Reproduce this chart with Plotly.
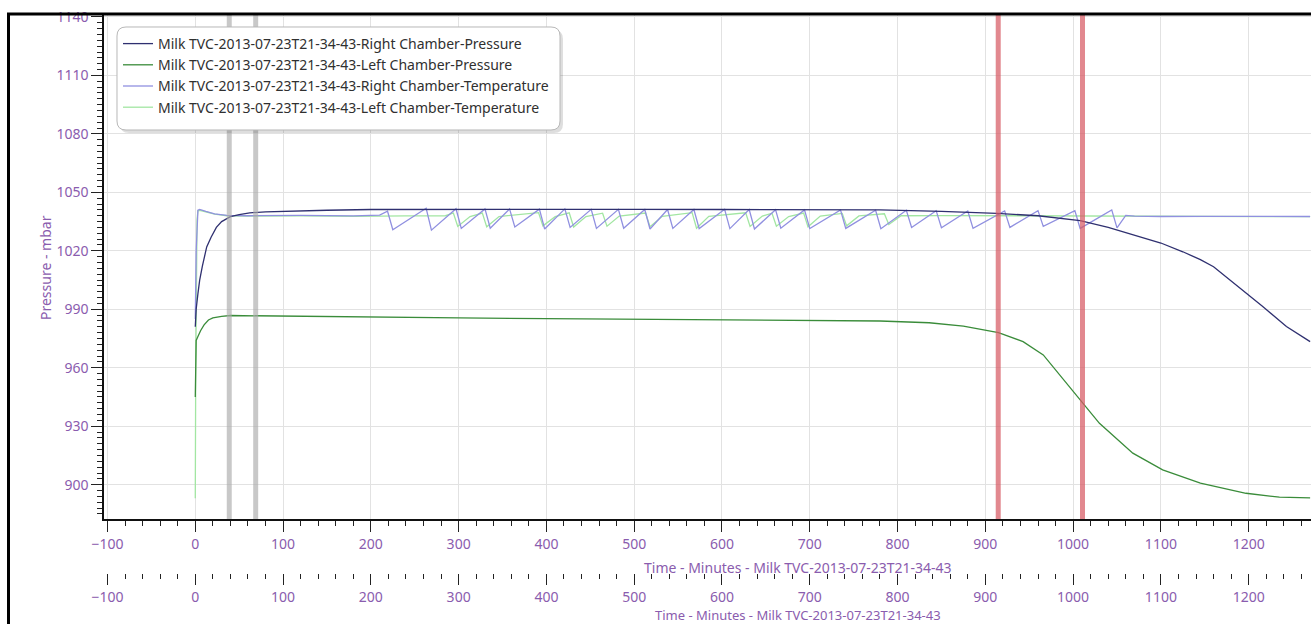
import plotly.graph_objects as go

# ---------------- data ----------------
series_names = [
    "Milk TVC-2013-07-23T21-34-43-Right Chamber-Pressure",
    "Milk TVC-2013-07-23T21-34-43-Left Chamber-Pressure",
    "Milk TVC-2013-07-23T21-34-43-Right Chamber-Temperature",
    "Milk TVC-2013-07-23T21-34-43-Left Chamber-Temperature",
]

rp_t = [0, 1, 3, 5, 8, 13, 18, 24, 30, 40, 50, 62, 80, 100, 150, 200, 300, 400, 500, 600,
        700, 780, 850, 913, 960, 1008, 1040, 1076, 1100, 1125, 1145, 1160, 1186, 1200, 1216, 1243, 1270]
rp_v = [981, 990, 998, 1005, 1012, 1022, 1027, 1032, 1035, 1037.5, 1038.6, 1039.5, 1040, 1040.3, 1040.8,
        1041.2, 1041.3, 1041.3, 1041.3, 1041.2, 1041.1, 1041, 1040.2, 1039.2, 1038, 1035.5, 1032,
        1027.4, 1024, 1019.5, 1015.5, 1011.8, 1002.5, 997.5, 991.4, 981.2, 973.4]

lp_t = [0, 0.5, 1, 3, 6, 10, 15, 20, 30, 40, 100, 200, 300, 400, 500, 600, 700, 780, 836, 875,
        915, 943, 966, 985, 1008, 1030, 1068, 1102, 1145, 1197, 1235, 1270]
lp_v = [945, 960, 974, 976, 979, 982, 984.5, 985.6, 986.4, 986.8, 986.6, 986.1, 985.6, 985.2, 984.9,
        984.6, 984.4, 984, 983.1, 981.4, 978, 973.4, 966.6, 956.3, 943.5, 931.5, 916.2, 907.6,
        900.8, 895.6, 893.6, 893.2]

rt_t = [0, 1, 3, 5, 12, 22, 36, 60, 120, 180, 210, 219, 225, 263, 269, 297, 303, 330, 336, 358,
        364, 392, 398, 421, 427, 451, 457, 482, 488, 512, 518, 538, 544, 568, 574, 603, 609, 631,
        637, 661, 667, 694, 700, 735, 741, 775, 781, 810, 816, 844, 850, 880, 886, 922, 928, 960,
        966, 1002, 1008, 1044, 1050, 1060, 1070, 1100, 1150, 1200, 1270]
rt_v = [985, 1020, 1040.8, 1041.2, 1040.2, 1039, 1038.2, 1038, 1038.2, 1037.9, 1038.3, 1040.3, 1030.8,
        1041.8, 1030.6, 1041.6, 1031.5, 1041.5, 1031.6, 1041.5, 1032.2, 1041.4, 1031.2, 1041.5, 1032,
        1041.3, 1031.5, 1041.3, 1031.6, 1041.2, 1031.2, 1041.2, 1031.5, 1041.2, 1031.4, 1041.3, 1031.4,
        1041.2, 1031.2, 1041.1, 1031.6, 1041, 1031.4, 1041, 1031.5, 1040.8, 1031.3, 1040.8, 1032,
        1040.6, 1031.8, 1040.4, 1031.5, 1040.5, 1032, 1040.6, 1032.5, 1040.6, 1031.5, 1041, 1031.8,
        1038.2, 1037.8, 1037.6, 1037.7, 1037.5, 1037.6]

lt_t = [0, 0.5, 2, 3, 5, 12, 22, 36, 60, 120, 180, 240, 285, 294, 299, 313, 327, 332, 346, 391,
        396, 410, 426, 431, 445, 464, 469, 483, 513, 518, 532, 566, 571, 585, 627, 632, 646, 657,
        662, 676, 693, 698, 712, 737, 742, 756, 785, 790, 804, 850, 900, 950, 1000, 1050, 1100,
        1150, 1200, 1270]
lt_v = [893, 960, 1036, 1040.6, 1040.8, 1040, 1038.8, 1038, 1037.8, 1038, 1037.7, 1037.9, 1038,
        1039.4, 1032.5, 1037.6, 1039.4, 1032.3, 1037.6, 1039.6, 1032.8, 1037.5, 1039.5, 1032.2,
        1037.6, 1039.3, 1032.6, 1037.8, 1039.4, 1032.4, 1037.7, 1039.6, 1031.6, 1037.7, 1039.5,
        1032.5, 1037.8, 1039.3, 1032.6, 1037.6, 1039.4, 1032.3, 1037.8, 1039.2, 1032.8, 1037.9,
        1039, 1033.5, 1038, 1038.1, 1038, 1037.9, 1038, 1037.6, 1037.7, 1037.5, 1037.6, 1037.5]

gray_markers = [38.7, 68.8]
red_markers = [914.7, 1010.7]

x_title = "Time - Minutes - Milk TVC-2013-07-23T21-34-43"
y_title = "Pressure - mbar"

# ---------------- styling ----------------
PURPLE = "#8a5cae"
FONT = "Noto Sans"
W, H = 1311, 624
ML, MT = 104, 14
PH = H - MT  # paper height (b=0)
PW = W - ML
plot_bottom_px = 519
ydom0 = (H - plot_bottom_px) / PH
x2_pos = (H - 573) / PH

def px_x(px):
    return (px - ML) / PW

def px_y(py):
    return (H - py) / PH

def rounded_rect(x0, y0, x1, y1, r):
    # pixel coords -> paper path with rounded corners
    X = lambda v: f"{px_x(v):.5f}"
    Y = lambda v: f"{px_y(v):.5f}"
    return (f"M {X(x0 + r)} {Y(y0)} L {X(x1 - r)} {Y(y0)} Q {X(x1)} {Y(y0)} {X(x1)} {Y(y0 + r)} "
            f"L {X(x1)} {Y(y1 - r)} Q {X(x1)} {Y(y1)} {X(x1 - r)} {Y(y1)} "
            f"L {X(x0 + r)} {Y(y1)} Q {X(x0)} {Y(y1)} {X(x0)} {Y(y1 - r)} "
            f"L {X(x0)} {Y(y0 + r)} Q {X(x0)} {Y(y0)} {X(x0 + r)} {Y(y0)} Z")

fig = go.Figure()
colors = ["#2f3070", "#3a8c3a", "#9090e0", "#a2e6a2"]
data = [(rp_t, rp_v), (lp_t, lp_v), (rt_t, rt_v), (lt_t, lt_v)]
order = [3, 2, 0, 1]  # drawing order
for i in order:
    t, v = data[i]
    fig.add_trace(go.Scatter(x=t, y=v, mode="lines", name=series_names[i],
                             line=dict(color=colors[i], width=1.3), legendrank=i + 1))
fig.add_trace(go.Scatter(x=[None], y=[None], xaxis="x2", showlegend=False, hoverinfo="skip"))

shapes = []
for m in gray_markers:
    shapes.append(dict(type="line", xref="x", yref="y domain", x0=m, x1=m, y0=0, y1=1,
                       line=dict(color="rgba(170,170,170,0.65)", width=5), layer="above"))
for m in red_markers:
    shapes.append(dict(type="line", xref="x", yref="y domain", x0=m, x1=m, y0=0, y1=1,
                       line=dict(color="rgba(215,90,100,0.72)", width=5), layer="above"))
# legend box with shadow and rounded corners
shapes.append(dict(type="path", xref="paper", yref="paper", path=rounded_rect(120, 30, 563, 133, 9),
                   fillcolor="rgba(0,0,0,0.13)", line=dict(width=0), layer="above"))
shapes.append(dict(type="path", xref="paper", yref="paper", path=rounded_rect(117, 27, 560, 130, 9),
                   fillcolor="white", line=dict(color="#b8b8b8", width=1), layer="above"))
# outer black frame (top and left)
shapes.append(dict(type="line", xref="paper", yref="paper", x0=px_x(7), x1=px_x(W + 5),
                   y0=px_y(14), y1=px_y(14), line=dict(color="black", width=3), layer="above"))
shapes.append(dict(type="line", xref="paper", yref="paper", x0=px_x(8.5), x1=px_x(8.5),
                   y0=px_y(13), y1=px_y(H + 5), line=dict(color="black", width=3), layer="above"))

x_range = [-104, 1271]
axis_common = dict(
    range=x_range, tick0=0, dtick=100, ticks="outside", ticklen=11, tickwidth=1.2,
    tickcolor="#222", tickfont=dict(color=PURPLE, size=14, family=FONT),
    minor=dict(dtick=20, ticks="outside", ticklen=5, tickcolor="#222", showgrid=False),
    zeroline=False,
)

fig.update_layout(
    width=W, height=H,
    margin=dict(l=ML, r=0, t=MT, b=0),
    paper_bgcolor="white", plot_bgcolor="white",
    showlegend=True,
    legend=dict(x=px_x(118), y=px_y(28), xanchor="left", yanchor="top",
                bgcolor="rgba(0,0,0,0)", borderwidth=0,
                font=dict(family=FONT, size=14, color="#303030"),
                itemwidth=30),
    xaxis=dict(**axis_common, showgrid=True, gridcolor="#e2e2e2", gridwidth=1,
               showline=True, linecolor="#111", linewidth=1.5, anchor="y"),
    xaxis2=dict(**axis_common, overlaying="x", anchor="free", position=x2_pos, side="bottom",
                showgrid=False, showline=False),
    yaxis=dict(range=[882.4, 1141.5], domain=[ydom0, 1], tick0=900, dtick=30,
               ticks="outside", ticklen=11, tickwidth=1.2, tickcolor="#222",
               tickfont=dict(color=PURPLE, size=14, family=FONT),
               minor=dict(dtick=3, ticks="outside", ticklen=5, tickcolor="#222", showgrid=False),
               showgrid=True, gridcolor="#e2e2e2", gridwidth=1,
               showline=True, linecolor="#111", linewidth=1.5, zeroline=False),
    shapes=shapes,
    annotations=[
        dict(text=x_title, xref="paper", yref="paper", x=px_x(798), y=px_y(567),
             xanchor="center", yanchor="middle", showarrow=False,
             font=dict(color=PURPLE, size=14, family=FONT)),
        dict(text=x_title, xref="paper", yref="paper", x=px_x(798), y=px_y(615),
             xanchor="center", yanchor="middle", showarrow=False,
             font=dict(color=PURPLE, size=13, family=FONT)),
        dict(text=y_title, xref="paper", yref="paper", x=px_x(45), y=px_y(268),
             xanchor="center", yanchor="middle", showarrow=False, textangle=-90,
             font=dict(color=PURPLE, size=14, family=FONT)),
    ],
)

fig.write_html("out.html", config={"displayModeBar": False},
               post_script="document.body.style.margin='0';document.body.style.overflow='hidden';")
